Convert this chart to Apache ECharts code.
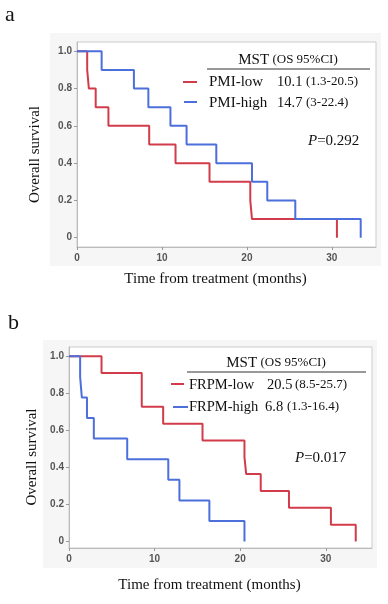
<!DOCTYPE html>
<html>
<head>
<meta charset="utf-8">
<script src="https://cdn.jsdelivr.net/npm/echarts@6/dist/echarts.min.js"></script>
<style>
  html, body { margin: 0; padding: 0; background: #fff; }
  #chart { width: 388px; height: 604px; }
</style>
</head>
<body>
<div id="chart"></div>
<script>
// panel a: PMI groups
var pmiLowTime = [0, 1.2, 1.4, 2.2, 3.7, 8.5, 11.6, 15.6, 20.4, 20.6, 30.6];
var pmiLowSurv = [1, 0.9, 0.8, 0.7, 0.6, 0.5, 0.4, 0.3, 0.2, 0.1, 0];
var pmiHighTime = [0, 2.9, 6.7, 8.4, 11.0, 12.9, 16.4, 20.6, 22.4, 25.7, 33.4];
var pmiHighSurv = [1, 0.9, 0.8, 0.7, 0.6, 0.5, 0.4, 0.3, 0.2, 0.1, 0];

// panel b: FRPM groups
var frpmLowTime = [0, 3.8, 8.5, 11.0, 15.6, 20.5, 20.7, 22.4, 25.7, 30.6, 33.5];
var frpmLowSurv = [1, 0.909, 0.727, 0.636, 0.545, 0.455, 0.364, 0.273, 0.182, 0.091, 0];
var frpmHighTime = [0, 1.3, 1.5, 2.1, 2.9, 6.8, 11.6, 12.9, 16.4, 20.5];
var frpmHighSurv = [1, 0.889, 0.778, 0.667, 0.556, 0.444, 0.333, 0.222, 0.111, 0];

var xTicks = [0, 10, 20, 30];
var yTicks = [0, 0.2, 0.4, 0.6, 0.8, 1.0];

var red = "#d23c4a";
var blue = "#4d6fdc";
var serif = "'Liberation Serif', 'Times New Roman', serif";

function pairs(t, s) {
  return t.map(function (v, i) { return [v, s[i]]; });
}

function xAxisFor(idx, max, gap, shift) {
  return {
    type: "value",
    gridIndex: idx,
    min: 0,
    max: max,
    name: "Time from treatment (months)",
    nameLocation: "middle",
    nameGap: gap,
    nameTextStyle: { fontFamily: serif, fontSize: 15, color: "#111", padding: [0, shift, 0, 0] },
    splitLine: { show: false },
    axisLine: { onZero: false, lineStyle: { color: "#bbb" } },
    axisTick: { length: 3, customValues: xTicks, lineStyle: { color: "#999" } },
    axisLabel: {
      customValues: xTicks,
      margin: 6,
      fontFamily: "'Liberation Sans', Arial, sans-serif",
      fontSize: 10,
      fontWeight: "bold",
      color: "#555"
    }
  };
}

function yAxisFor(idx, min, gap, shift) {
  return {
    type: "value",
    gridIndex: idx,
    min: min,
    max: 1.05,
    name: "Overall survival",
    nameLocation: "middle",
    nameGap: gap,
    nameTextStyle: { fontFamily: serif, fontSize: 15, color: "#111", padding: [0, shift, 0, 0] },
    splitLine: { show: false },
    axisLine: { show: true, lineStyle: { color: "#bbb" } },
    axisTick: { show: true, length: 3, customValues: yTicks, lineStyle: { color: "#999" } },
    axisLabel: {
      customValues: yTicks,
      margin: 5,
      fontFamily: "'Liberation Sans', Arial, sans-serif",
      fontSize: 10,
      fontWeight: "bold",
      color: "#555",
      formatter: function (v) { return v === 0 ? "0" : v.toFixed(1); }
    }
  };
}

function kmLine(name, t, s, color, xi, yi, z) {
  return {
    name: name,
    type: "line",
    step: "end",
    xAxisIndex: xi,
    yAxisIndex: yi,
    data: pairs(t, s),
    symbol: "none",
    z: z,
    lineStyle: { color: color, width: 2 }
  };
}

function txt(x, y, s, size, opts) {
  opts = opts || {};
  return {
    type: "text",
    x: x,
    y: y,
    z: 100,
    style: {
      text: s,
      font: (opts.italic ? "italic " : "") + size + "px " + serif,
      fill: "#111",
      textAlign: opts.align || "left",
      textVerticalAlign: "middle"
    }
  };
}

function seg(x1, x2, y, color, width) {
  return {
    type: "line",
    z: 100,
    shape: { x1: x1, y1: y, x2: x2, y2: y },
    style: { stroke: color, lineWidth: width }
  };
}

function panelBg(x, y, w, h) {
  return {
    type: "rect",
    z: -10,
    shape: { x: x, y: y, width: w, height: h },
    style: { fill: "#f6f6f6" }
  };
}

function header(x, y) {
  return {
    type: "text", x: x, y: y, z: 100,
    style: {
      text: "{m|MST} {s|(OS 95%CI)}",
      textAlign: "center", textVerticalAlign: "middle",
      rich: {
        m: { fontFamily: serif, fontSize: 15, fill: "#111" },
        s: { fontFamily: serif, fontSize: 13, fill: "#111" }
      }
    }
  };
}

function pval(x, y, v) {
  return {
    type: "text", x: x, y: y, z: 100,
    style: {
      text: "{p|P}{v|=" + v + "}",
      textVerticalAlign: "middle",
      rich: {
        p: { fontFamily: serif, fontSize: 15, fontStyle: "italic", fill: "#111" },
        v: { fontFamily: serif, fontSize: 15, fill: "#111" }
      }
    }
  };
}

var option = {
  animation: false,
  backgroundColor: "#fff",
  grid: [
    { left: 77, top: 42, width: 299, height: 205, show: true, backgroundColor: "#fff", borderColor: "#ccc", borderWidth: 1 },
    { left: 69, top: 347, width: 303, height: 201, show: true, backgroundColor: "#fff", borderColor: "#ccc", borderWidth: 1 }
  ],
  xAxis: [xAxisFor(0, 35.2, 25, 22), xAxisFor(1, 35.4, 30, 22)],
  yAxis: [yAxisFor(0, -0.05, 34, 20), yAxisFor(1, -0.035, 29, 19)],
  series: [
    kmLine("PMI-low", pmiLowTime, pmiLowSurv, red, 0, 0, 2),
    kmLine("PMI-high", pmiHighTime, pmiHighSurv, blue, 0, 0, 3),
    kmLine("FRPM-low", frpmLowTime, frpmLowSurv, red, 1, 1, 2),
    kmLine("FRPM-high", frpmHighTime, frpmHighSurv, blue, 1, 1, 3)
  ],
  graphic: [
    panelBg(50, 33, 331, 233),
    panelBg(43, 340, 334, 228),
    txt(5, 15, "a", 22),
    txt(8, 323, "b", 22),

    // panel a legend
    header(288, 60),
    seg(207, 370, 69, "#333", 1),
    seg(183, 197, 82, red, 2),
    txt(209, 82, "PMI-low", 15),
    txt(277, 82, "10.1", 14.5),
    txt(306, 82, "(1.3-20.5)", 13),
    seg(184, 197, 102, blue, 2),
    txt(209, 103, "PMI-high", 15),
    txt(277, 103, "14.7", 14.5),
    txt(306, 103, "(3-22.4)", 13),
    pval(308, 141, "0.292"),

    // panel b legend
    header(276, 363),
    seg(187, 366, 372, "#333", 1),
    seg(171, 184, 384, red, 2),
    txt(189, 385, "FRPM-low", 14.5),
    txt(267, 385, "20.5", 14.5),
    txt(295, 385, "(8.5-25.7)", 13),
    seg(173, 188, 407, blue, 2),
    txt(189, 407, "FRPM-high", 14.5),
    txt(265, 407, "6.8", 14.5),
    txt(287, 407, "(1.3-16.4)", 13),
    pval(295, 458, "0.017")
  ]
};

var myChart = echarts.init(document.getElementById("chart"));
myChart.setOption(option);
</script>
</body>
</html>
